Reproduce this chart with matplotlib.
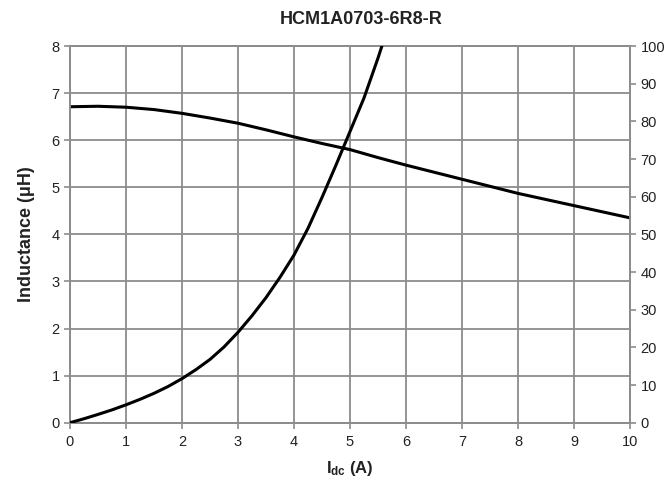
import matplotlib
matplotlib.use("Agg")
import matplotlib.pyplot as plt

plt.rcParams['font.family'] = ['Liberation Sans', 'DejaVu Sans']
plt.rcParams['mathtext.fontset'] = 'custom'
plt.rcParams['mathtext.rm'] = 'Liberation Sans'
plt.rcParams['mathtext.bf'] = 'Liberation Sans:bold'

# Data
current_L = [0, 0.5, 1, 1.5, 2, 2.5, 3, 3.5, 4, 4.5, 5, 5.5, 6, 6.5, 7, 7.5, 8, 8.5, 9, 9.5, 10]
inductance = [6.71, 6.72, 6.70, 6.65, 6.57, 6.47, 6.36, 6.22, 6.07, 5.93, 5.80, 5.63, 5.47,
              5.32, 5.17, 5.02, 4.87, 4.74, 4.61, 4.48, 4.35]
current_T = [0, 0.25, 0.5, 0.75, 1, 1.25, 1.5, 1.75, 2, 2.25, 2.5, 2.75, 3, 3.25, 3.5,
             3.75, 4, 4.25, 4.5, 4.75, 5, 5.25, 5.5, 5.57]
temp_rise = [0, 1.05, 2.2, 3.4, 4.75, 6.2, 7.8, 9.6, 11.7, 14.1, 16.8, 20.1, 24.0, 28.4, 33.2,
             38.6, 44.5, 51.6, 59.8, 68.4, 77.3, 86.2, 96.8, 100]

x_ticks = list(range(0, 11))
left_ticks = list(range(0, 9))
right_ticks = list(range(0, 101, 10))

title = "HCM1A0703-6R8-R"
grid_c = '#8c8c8c'
text_c = '#222222'

fig = plt.figure(figsize=(6.7, 4.83), dpi=100)
ax = fig.add_axes([70/670, 1-422.7/483, 560/670, (422.7-46)/483])
ax2 = ax.twinx()

ax.plot(current_L, inductance, color='black', lw=2.2, solid_capstyle='round',
        solid_joinstyle='round', zorder=3)
ax2.plot(current_T, temp_rise, color='black', lw=2.2, solid_capstyle='round',
         solid_joinstyle='round', zorder=3)

ax.set_xlim(0, 10)
ax.set_ylim(0, 8)
ax2.set_ylim(0, 100)
ax.set_xticks(x_ticks)
ax.set_yticks(left_ticks)
ax2.set_yticks(right_ticks)

ax.grid(True, color=grid_c, lw=1.3)
ax.set_axisbelow(True)
for a in (ax, ax2):
    for s in a.spines.values():
        s.set_color(grid_c)
        s.set_linewidth(1.3)
    a.tick_params(axis='both', colors=grid_c, labelcolor=text_c, labelsize=10.5,
                  length=4, width=1.2, direction='out')
ax.tick_params(axis='x', pad=5)

ax.set_xlabel(r'$\mathbf{I_{dc}}$ (A)', fontsize=12, fontweight='bold', color=text_c, labelpad=7)
ax.set_ylabel('Inductance (μH)', fontsize=13, fontweight='bold', color=text_c, labelpad=12)
fig.text(361/670, 1-20/483, title, fontsize=13, fontweight='bold', color=text_c,
         ha='center', va='center')

fig.savefig('out.png', dpi=100)
